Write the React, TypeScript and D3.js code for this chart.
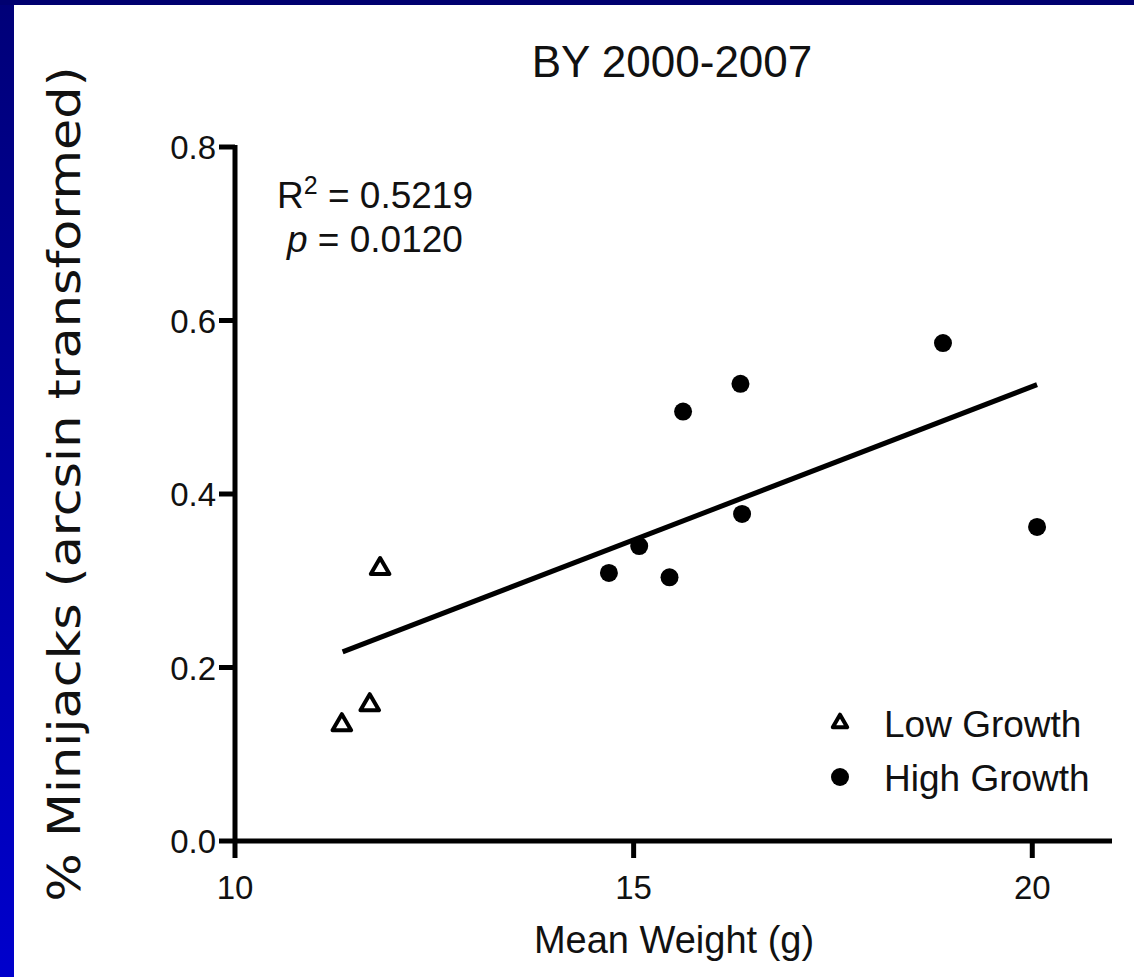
import { useEffect, useRef } from "react";
import * as d3 from "d3";

const lowWeight = [11.82, 11.34, 11.69];
const lowPct = [0.315, 0.135, 0.158];
const highWeight = [14.69, 15.07, 15.45, 15.62, 16.34, 16.36, 18.88, 20.06];
const highPct = [0.309, 0.34, 0.304, 0.495, 0.527, 0.377, 0.574, 0.362];
const fitWeight = [11.35, 20.06];
const fitPct = [0.218, 0.526];
const xTicks = [10, 15, 20];
const yTicks = [0, 0.2, 0.4, 0.6, 0.8];
const legendLabels = ["Low Growth", "High Growth"];

const W = 1134;
const H = 977;

const App = () => {
  const svgRef = useRef<SVGSVGElement>(null);

  useEffect(() => {
    const svg = d3.select(svgRef.current);
    svg.selectAll("*").remove();
    const font = "'Liberation Sans', Arial, sans-serif";

    // frame
    const defs = svg.append("defs");
    const grad = defs
      .append("linearGradient")
      .attr("id", "edge")
      .attr("x1", 0)
      .attr("y1", 0)
      .attr("x2", 0)
      .attr("y2", 1);
    grad.append("stop").attr("offset", "0%").attr("stop-color", "#000078");
    grad.append("stop").attr("offset", "100%").attr("stop-color", "#0000cc");
    svg.append("rect").attr("width", W).attr("height", H).attr("fill", "#fff");
    svg.append("rect").attr("width", 14).attr("height", H).attr("fill", "url(#edge)");
    svg.append("rect").attr("width", W).attr("height", 5).attr("fill", "#000070");

    const x = d3.scaleLinear().domain([10, 21]).range([235, 1112]);
    const y = d3.scaleLinear().domain([0, 0.8]).range([841, 147]);

    // axes
    const ax = svg.append("g").attr("stroke", "#000").attr("stroke-width", 5);
    ax.append("line")
      .attr("x1", x(10)).attr("x2", x(10))
      .attr("y1", y(0.8) - 2).attr("y2", y(0) + 2);
    ax.append("line")
      .attr("x1", x(10) - 2).attr("x2", x(21))
      .attr("y1", y(0)).attr("y2", y(0));
    yTicks.forEach((t) => {
      ax.append("line")
        .attr("x1", x(10) - 16).attr("x2", x(10))
        .attr("y1", y(t)).attr("y2", y(t));
    });
    xTicks.forEach((t) => {
      ax.append("line")
        .attr("x1", x(t)).attr("x2", x(t))
        .attr("y1", y(0)).attr("y2", y(0) + 17);
    });

    svg.append("g")
      .selectAll("text")
      .data(yTicks)
      .join("text")
      .attr("x", x(10) - 19)
      .attr("y", (d) => y(d) + 12)
      .attr("text-anchor", "end")
      .attr("font-family", font)
      .attr("font-size", 33)
      .attr("fill", "#111")
      .text((d) => d3.format(".1f")(d));

    svg.append("g")
      .selectAll("text")
      .data(xTicks)
      .join("text")
      .attr("x", (d) => x(d))
      .attr("y", y(0) + 58)
      .attr("text-anchor", "middle")
      .attr("font-family", font)
      .attr("font-size", 33)
      .attr("fill", "#111")
      .text((d) => d);

    // regression line
    const line = d3
      .line<number>()
      .x((d) => x(d))
      .y((d, i) => y(fitPct[i]));
    svg.append("path")
      .datum(fitWeight)
      .attr("d", line)
      .attr("fill", "none")
      .attr("stroke", "#000")
      .attr("stroke-width", 5);

    // points
    const tri = d3.symbol().type(d3.symbolTriangle).size(150);
    svg.append("g")
      .selectAll("path")
      .data(lowWeight)
      .join("path")
      .attr("d", tri)
      .attr("transform", (d, i) => `translate(${x(d)},${y(lowPct[i]) + 1})`)
      .attr("fill", "#fff")
      .attr("stroke", "#000")
      .attr("stroke-width", 4)
      .attr("stroke-linejoin", "round");
    svg.append("g")
      .selectAll("circle")
      .data(highWeight)
      .join("circle")
      .attr("cx", (d) => x(d))
      .attr("cy", (d, i) => y(highPct[i]))
      .attr("r", 9)
      .attr("fill", "#000");

    // legend
    const lg = svg.append("g").attr("font-family", font).attr("font-size", 37).attr("fill", "#111");
    lg.append("path")
      .attr("d", d3.symbol().type(d3.symbolTriangle).size(90))
      .attr("transform", "translate(840,723)")
      .attr("fill", "#fff")
      .attr("stroke", "#000")
      .attr("stroke-width", 4)
      .attr("stroke-linejoin", "round");
    lg.append("circle").attr("cx", 840).attr("cy", 777).attr("r", 9).attr("fill", "#000");
    legendLabels.forEach((l, i) => {
      lg.append("text").attr("x", 884).attr("y", 737 + i * 54).text(l);
    });

    // stats
    const st = svg.append("g").attr("font-family", font).attr("font-size", 37).attr("fill", "#111");
    const r2 = st.append("text").attr("x", 277).attr("y", 208);
    r2.append("tspan").text("R");
    r2.append("tspan").attr("font-size", 25).attr("dy", -14).text("2");
    r2.append("tspan").attr("dy", 14).text(" = 0.5219");
    const pt = st.append("text").attr("x", 287).attr("y", 252);
    pt.append("tspan").attr("font-style", "italic").text("p");
    pt.append("tspan").text(" = 0.0120");

    // titles
    svg.append("text")
      .attr("x", 672)
      .attr("y", 77)
      .attr("text-anchor", "middle")
      .attr("font-family", font)
      .attr("font-size", 44)
      .attr("fill", "#111")
      .text("BY 2000-2007");
    svg.append("text")
      .attr("x", 674)
      .attr("y", 953)
      .attr("text-anchor", "middle")
      .attr("font-family", font)
      .attr("font-size", 38)
      .attr("fill", "#111")
      .text("Mean Weight (g)");
    svg.append("text")
      .attr("transform", "translate(80,484) rotate(-90)")
      .attr("text-anchor", "middle")
      .attr("font-family", "'DejaVu Sans', sans-serif")
      .attr("font-size", 44)
      .attr("fill", "#111")
      .attr("textLength", 835)
      .attr("lengthAdjust", "spacingAndGlyphs")
      .text("% Minijacks (arcsin transformed)");
  }, []);

  return (
    <svg
      ref={svgRef}
      width={W}
      height={H}
      style={{ position: "absolute", left: 0, top: 0 }}
    ></svg>
  );
};

export default App;
